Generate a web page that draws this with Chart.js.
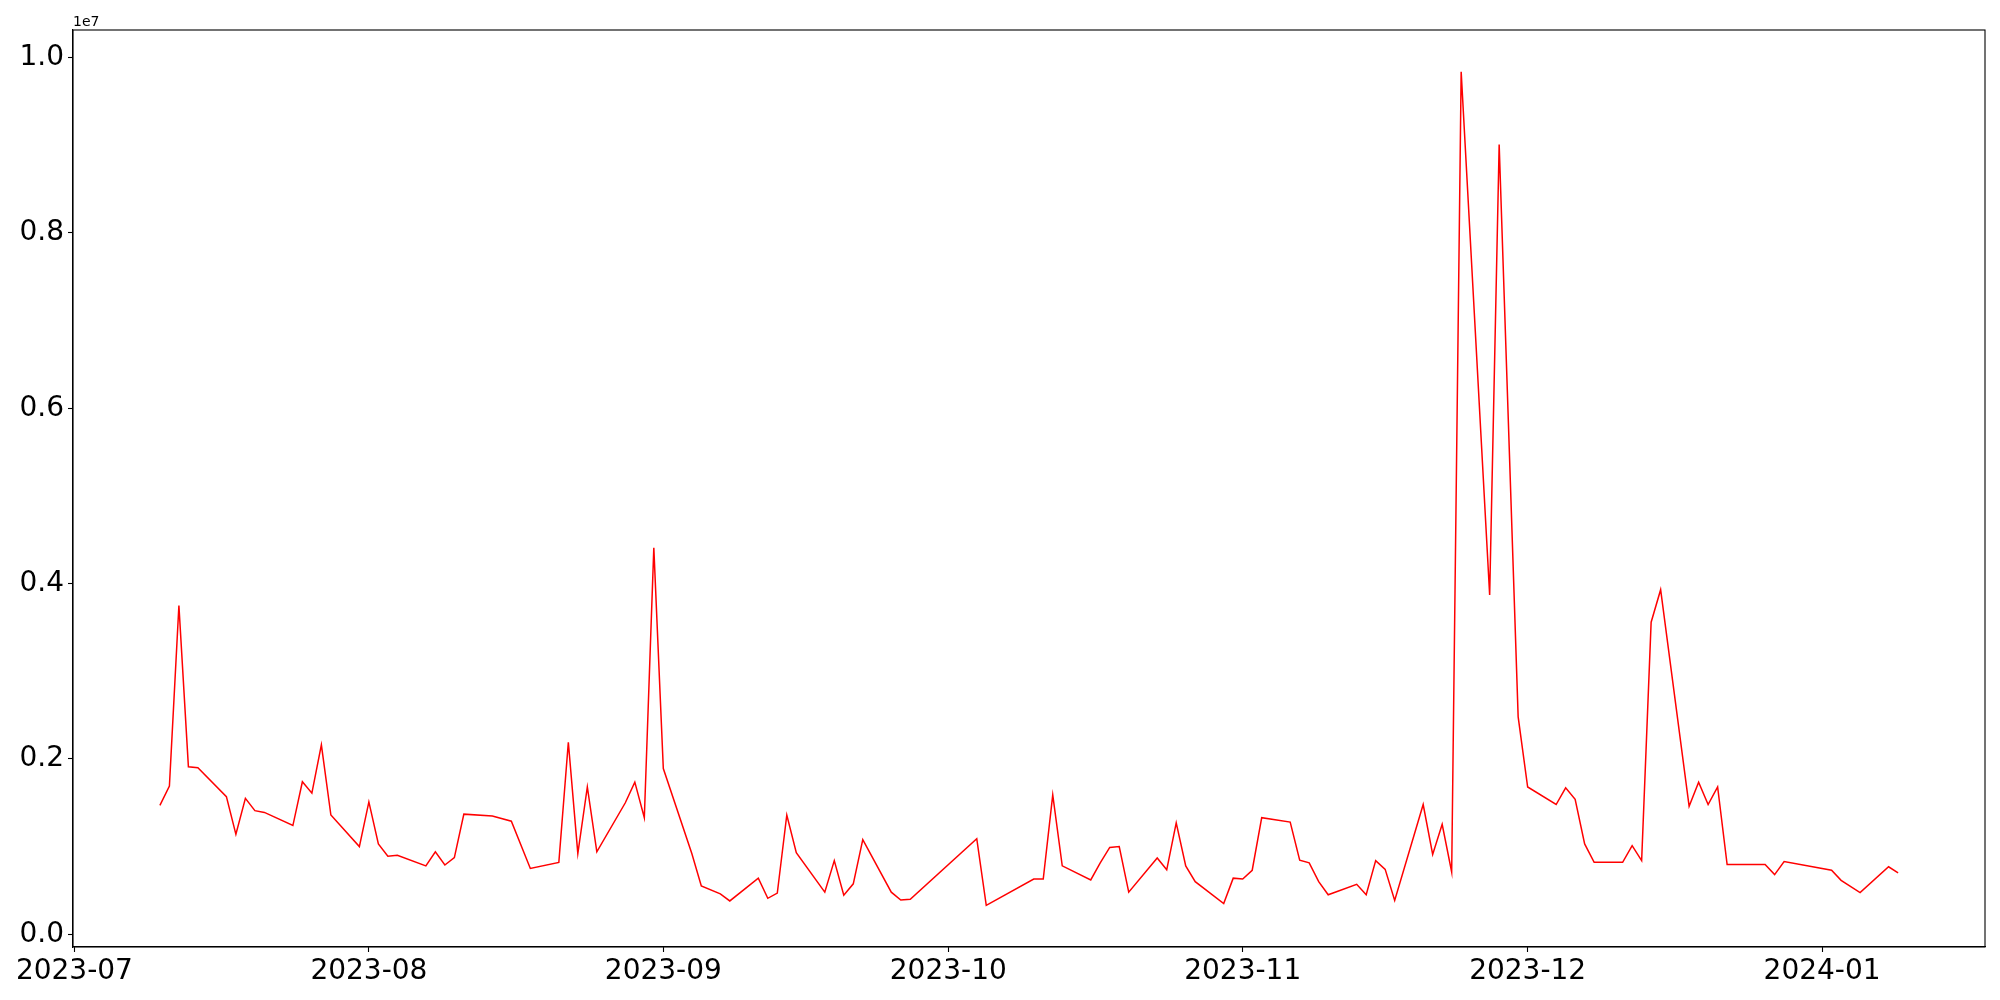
<!DOCTYPE html>
<html>
<head>
<meta charset="utf-8">
<script src="https://cdn.jsdelivr.net/npm/chart.js@4.4.1/dist/chart.umd.min.js"></script>
<style>
  html, body { margin: 0; padding: 0; background: #fff; }
  #wrap { width: 2000px; height: 1000px; }
</style>
</head>
<body>
<div id="wrap"><canvas id="lineChart" width="2000" height="1000"></canvas></div>
<script>
// trading dates
const dates = [
    '2023-07-10', '2023-07-11', '2023-07-12', '2023-07-13', '2023-07-14',
    '2023-07-17', '2023-07-18', '2023-07-19', '2023-07-20', '2023-07-21',
    '2023-07-24', '2023-07-25', '2023-07-26', '2023-07-27', '2023-07-28',
    '2023-07-31', '2023-08-01', '2023-08-02', '2023-08-03', '2023-08-04',
    '2023-08-07', '2023-08-08', '2023-08-09', '2023-08-10', '2023-08-11',
    '2023-08-14', '2023-08-16', '2023-08-18',
    '2023-08-21', '2023-08-22', '2023-08-23', '2023-08-24', '2023-08-25',
    '2023-08-28', '2023-08-29', '2023-08-30', '2023-08-31', '2023-09-01',
    '2023-09-04', '2023-09-05', '2023-09-07', '2023-09-08',
    '2023-09-11', '2023-09-12', '2023-09-13', '2023-09-14', '2023-09-15',
    '2023-09-18', '2023-09-19', '2023-09-20', '2023-09-21', '2023-09-22',
    '2023-09-25', '2023-09-26', '2023-09-27',
    '2023-10-04', '2023-10-05',
    '2023-10-10', '2023-10-11', '2023-10-12', '2023-10-13',
    '2023-10-16', '2023-10-17', '2023-10-18', '2023-10-19', '2023-10-20',
    '2023-10-23', '2023-10-24', '2023-10-25', '2023-10-26', '2023-10-27',
    '2023-10-30', '2023-10-31', '2023-11-01', '2023-11-02', '2023-11-03',
    '2023-11-06', '2023-11-07', '2023-11-08', '2023-11-09', '2023-11-10',
    '2023-11-13', '2023-11-14', '2023-11-15', '2023-11-16', '2023-11-17',
    '2023-11-20', '2023-11-21', '2023-11-22', '2023-11-23', '2023-11-24',
    '2023-11-27', '2023-11-28', '2023-11-30', '2023-12-01',
    '2023-12-04', '2023-12-05', '2023-12-06', '2023-12-07', '2023-12-08',
    '2023-12-11', '2023-12-12', '2023-12-13', '2023-12-14', '2023-12-15',
    '2023-12-18', '2023-12-19', '2023-12-20', '2023-12-21', '2023-12-22',
    '2023-12-26', '2023-12-27', '2023-12-28',
    '2024-01-02', '2024-01-03', '2024-01-05', '2024-01-08', '2024-01-09'
];

// values in millions
const values = [
    1.47, 1.69, 3.75, 1.91, 1.90,
    1.57, 1.14, 1.55, 1.41, 1.39,
    1.24, 1.74, 1.61, 2.16, 1.36,
    1.00, 1.51, 1.03, 0.89, 0.90,
    0.78, 0.94, 0.79, 0.875, 1.37,
    1.35, 1.29, 0.75,
    0.82, 2.19, 0.92, 1.68, 0.94,
    1.50, 1.735, 1.33, 4.41, 1.89,
    0.92, 0.55, 0.46, 0.38,
    0.64, 0.41, 0.47, 1.36, 0.93,
    0.48, 0.84, 0.445, 0.575, 1.08,
    0.48, 0.39, 0.40,
    1.09, 0.33,
    0.63, 0.63, 1.59, 0.78,
    0.62, 0.815, 0.99, 1.00, 0.48,
    0.87, 0.735, 1.27, 0.78, 0.60,
    0.35, 0.64, 0.63, 0.73, 1.33,
    1.28, 0.845, 0.815, 0.60, 0.45,
    0.57, 0.45, 0.84, 0.74, 0.385,
    1.48, 0.91, 1.255, 0.71, 9.84,
    3.87, 9.01, 2.48, 1.68,
    1.48, 1.67, 1.54, 1.03, 0.82,
    0.82, 1.01, 0.84, 3.56, 3.93,
    1.46, 1.735, 1.48, 1.68, 0.795,
    0.795, 0.68, 0.83,
    0.73, 0.615, 0.475, 0.77, 0.70
];

const monthTicks = ['2023-07-01', '2023-08-01', '2023-09-01', '2023-10-01', '2023-11-01', '2023-12-01', '2024-01-01'];
const monthLabels = ['2023-07', '2023-08', '2023-09', '2023-10', '2023-11', '2023-12', '2024-01'];
const yTicks = [0, 2e6, 4e6, 6e6, 8e6, 1e7];

const DAY = 86400000;
const origin = Date.UTC(2023, 6, 1);
function dayNum(s) {
    const p = s.split('-');
    return (Date.UTC(+p[0], +p[1] - 1, +p[2]) - origin) / DAY;
}

const points = dates.map((d, i) => ({ x: dayNum(d), y: values[i] * 1e6 }));
const tickDays = monthTicks.map(dayNum);

// matplotlib style 5% margins
const xs = points.map(p => p.x), ys = points.map(p => p.y);
const xMin = Math.min(...xs), xMax = Math.max(...xs);
const yMin = Math.min(...ys), yMax = Math.max(...ys);
const xPad = (xMax - xMin) * 0.05, yPad = (yMax - yMin) * 0.05;

const FONT = 'DejaVu Sans';

const framePlugin = {
    id: 'frame',
    afterDraw(chart) {
        const a = chart.chartArea, ctx = chart.ctx;
        ctx.save();
        ctx.strokeStyle = '#000';
        ctx.lineWidth = 1.1;
        ctx.strokeRect(a.left, a.top, a.right - a.left, a.bottom - a.top);
        ctx.fillStyle = '#000';
        ctx.font = '14px "' + FONT + '"';
        ctx.textAlign = 'left';
        ctx.textBaseline = 'alphabetic';
        ctx.fillText('1e7', a.left, a.top - 4);
        ctx.restore();
    }
};

new Chart(document.getElementById('lineChart'), {
    type: 'line',
    data: {
        datasets: [{
            data: points,
            borderColor: '#ff0000',
            borderWidth: 1.5,
            pointRadius: 0,
            tension: 0,
            fill: false
        }]
    },
    options: {
        responsive: false,
        animation: false,
        devicePixelRatio: 1,
        layout: { padding: { left: 0, top: 30, right: 15, bottom: 0 } },
        plugins: { legend: { display: false }, tooltip: { enabled: false } },
        scales: {
            x: {
                type: 'linear',
                min: xMin - xPad,
                max: xMax + xPad,
                afterBuildTicks: scale => { scale.ticks = tickDays.map(v => ({ value: v })); },
                afterFit: scale => { scale.height = 53; },
                ticks: {
                    autoSkip: false,
                    maxRotation: 0,
                    padding: 3,
                    color: '#000',
                    font: { family: FONT, size: 28 },
                    callback: v => monthLabels[tickDays.indexOf(v)]
                },
                grid: { drawOnChartArea: false, drawTicks: true, tickLength: 5, color: '#000', tickWidth: 1.1 },
                border: { display: true, color: '#000', width: 1.1 }
            },
            y: {
                min: yMin - yPad,
                max: yMax + yPad,
                afterBuildTicks: scale => { scale.ticks = yTicks.map(v => ({ value: v })); },
                afterFit: scale => { scale.width = 73; },
                ticks: {
                    padding: 4,
                    color: '#000',
                    font: { family: FONT, size: 28 },
                    callback: v => (v / 1e7).toFixed(1)
                },
                grid: { drawOnChartArea: false, drawTicks: true, tickLength: 5, color: '#000', tickWidth: 1.1 },
                border: { display: true, color: '#000', width: 1.1 }
            }
        }
    },
    plugins: [framePlugin]
});
</script>
</body>
</html>
